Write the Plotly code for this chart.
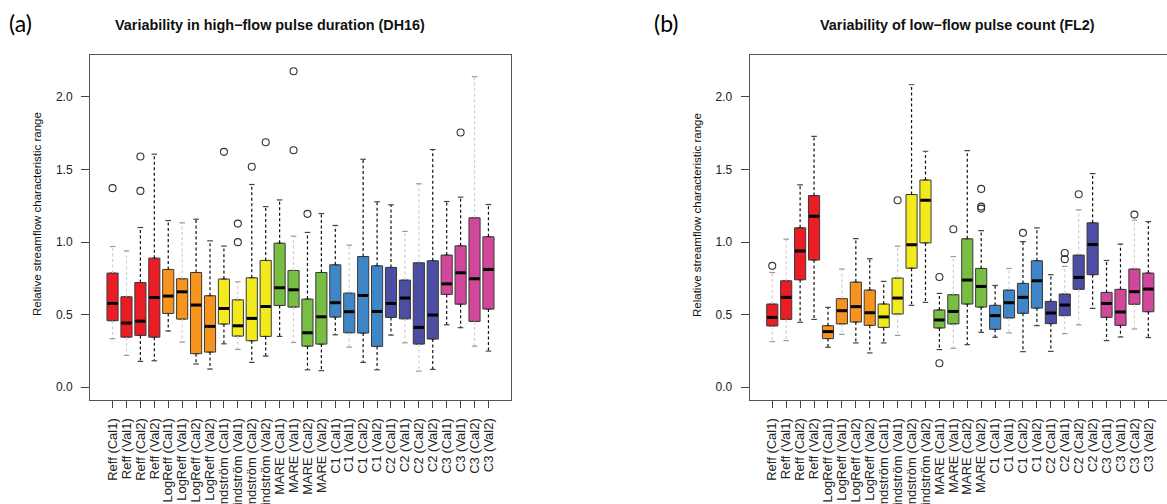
import plotly.graph_objects as go

# ---- categories ------------------------------------------------------------
groups = ["Reff", "LogReff", "Lindström", "MARE", "C1", "C2", "C3"]
periods = ["Cal1", "Val1", "Cal2", "Val2"]
labels = [f"{g} ({p})" for g in groups for p in periods]

group_colors = ["#EC1C24", "#F7941D", "#F2EA1C", "#78BE43", "#3F86C8", "#4B4EA3", "#D0479B"]

# ---- (a) DH16: variability in high-flow pulse duration --------------------
dh16_lower = [0.334, 0.219, 0.178, 0.182, 0.387, 0.311, 0.160, 0.125,
              0.299, 0.260, 0.171, 0.214, 0.350, 0.308, 0.120, 0.114,
              0.361, 0.276, 0.171, 0.120, 0.359, 0.306, 0.111, 0.123,
              0.430, 0.410, 0.283, 0.249]
dh16_q1 = [0.458, 0.345, 0.357, 0.345, 0.508, 0.469, 0.231, 0.242,
           0.435, 0.352, 0.320, 0.350, 0.563, 0.552, 0.283, 0.297,
           0.483, 0.375, 0.373, 0.281, 0.481, 0.471, 0.297, 0.332,
           0.639, 0.572, 0.453, 0.538]
dh16_median = [0.577, 0.442, 0.455, 0.618, 0.628, 0.657, 0.566, 0.419,
               0.542, 0.423, 0.474, 0.556, 0.685, 0.671, 0.375, 0.485,
               0.582, 0.520, 0.632, 0.522, 0.577, 0.614, 0.412, 0.497,
               0.712, 0.788, 0.747, 0.811]
dh16_q3 = [0.786, 0.623, 0.721, 0.889, 0.811, 0.747, 0.790, 0.630,
           0.745, 0.602, 0.754, 0.873, 0.992, 0.804, 0.607, 0.790,
           0.843, 0.648, 0.900, 0.836, 0.825, 0.738, 0.857, 0.871,
           0.910, 0.974, 1.167, 1.036]
dh16_upper = [0.969, 0.939, 1.100, 1.605, 1.148, 1.132, 1.157, 1.008,
              0.972, 0.726, 1.396, 1.244, 1.290, 1.040, 1.066, 1.196,
              1.114, 0.978, 1.570, 1.277, 1.256, 1.073, 1.401, 1.637,
              1.279, 1.309, 2.139, 1.258]
dh16_outliers = [[1.371], [], [1.589, 1.352], [], [], [], [], [],
                 [1.621], [1.127, 0.999], [1.518], [1.687],
                 [], [2.176, 1.632], [1.194], [],
                 [], [], [], [], [], [], [], [],
                 [], [1.754], [], []]

# ---- (b) FL2: variability of low-flow pulse count -------------------------
fl2_lower = [0.314, 0.321, 0.447, 0.467, 0.275, 0.364, 0.305, 0.236,
             0.305, 0.357, 0.564, 0.584, 0.259, 0.268, 0.293, 0.378,
             0.344, 0.374, 0.245, 0.424, 0.247, 0.369, 0.429, 0.543,
             0.321, 0.346, 0.401, 0.342]
fl2_q1 = [0.422, 0.467, 0.740, 0.876, 0.335, 0.436, 0.449, 0.426,
          0.412, 0.504, 0.820, 0.994, 0.408, 0.436, 0.573, 0.552,
          0.399, 0.477, 0.509, 0.545, 0.438, 0.493, 0.674, 0.775,
          0.481, 0.426, 0.571, 0.520]
fl2_median = [0.481, 0.619, 0.939, 1.178, 0.383, 0.527, 0.555, 0.513,
              0.484, 0.614, 0.981, 1.288, 0.463, 0.522, 0.738, 0.694,
              0.493, 0.582, 0.619, 0.733, 0.511, 0.566, 0.756, 0.983,
              0.577, 0.518, 0.658, 0.676]
fl2_q3 = [0.573, 0.733, 1.098, 1.320, 0.424, 0.610, 0.724, 0.669,
          0.573, 0.752, 1.327, 1.427, 0.532, 0.637, 1.022, 0.818,
          0.564, 0.669, 0.715, 0.871, 0.591, 0.642, 0.910, 1.132,
          0.653, 0.674, 0.814, 0.786]
fl2_upper = [0.790, 1.020, 1.393, 1.728, 0.550, 0.814, 1.024, 0.885,
             0.729, 0.972, 2.083, 1.625, 0.646, 0.900, 1.629, 1.079,
             0.701, 0.818, 1.003, 1.098, 0.775, 0.832, 1.221, 1.471,
             0.873, 0.985, 1.150, 1.141]
fl2_outliers = [[0.836], [], [], [], [], [], [], [],
                [], [1.288], [], [],
                [0.759, 0.165], [1.088], [], [1.366, 1.244, 1.230],
                [], [], [1.063], [], [], [0.924, 0.882], [1.329], [],
                [], [], [1.189], []]

# whiskers that render as faint grey dashes
faint_whisker = [1, 2, 6, 10, 14, 18, 22, 23, 27]

W, H = 1167, 504
BOX_W = 0.8
CAP_W = 0.4
FONT = "Liberation Sans, Arial, sans-serif"

fig = go.Figure()


def add_panel(xa, ya, lower, q1, med, q3, upper, outliers):
    pos = list(range(1, len(labels) + 1))
    # boxes, one trace per objective-function group
    for gi, col in enumerate(group_colors):
        idx = range(gi * 4, gi * 4 + 4)
        fig.add_trace(go.Box(
            x=[pos[i] for i in idx],
            q1=[q1[i] for i in idx], median=[med[i] for i in idx],
            q3=[q3[i] for i in idx],
            lowerfence=[q1[i] for i in idx], upperfence=[q3[i] for i in idx],
            fillcolor=col, line=dict(color="#3a3a3a", width=1),
            width=BOX_W, boxpoints=False, hoverinfo="skip",
            xaxis=xa, yaxis=ya, showlegend=False))
    # dashed whiskers and solid caps
    for faint in (False, True):
        wx, wy, cx, cy = [], [], [], []
        for i, p in enumerate(pos):
            if ((i + 1) in faint_whisker) != faint:
                continue
            wx += [p, p, None, p, p, None]
            wy += [q3[i], upper[i], None, q1[i], lower[i], None]
            cx += [p - CAP_W / 2, p + CAP_W / 2, None, p - CAP_W / 2, p + CAP_W / 2, None]
            cy += [upper[i], upper[i], None, lower[i], lower[i], None]
        color = "#cfcfcf" if faint else "#111111"
        fig.add_trace(go.Scatter(x=wx, y=wy, mode="lines",
                                 line=dict(color=color, width=1.2, dash="3px,2.5px"),
                                 hoverinfo="skip", xaxis=xa, yaxis=ya, showlegend=False))
        fig.add_trace(go.Scatter(x=cx, y=cy, mode="lines",
                                 line=dict(color="#444444" if not faint else "#9a9a9a", width=1.2),
                                 hoverinfo="skip", xaxis=xa, yaxis=ya, showlegend=False))
    # medians
    mx, my = [], []
    for i, p in enumerate(pos):
        mx += [p - BOX_W / 2 + 0.03, p + BOX_W / 2 - 0.03, None]
        my += [med[i], med[i], None]
    fig.add_trace(go.Scatter(x=mx, y=my, mode="lines", line=dict(color="black", width=3),
                             hoverinfo="skip", xaxis=xa, yaxis=ya, showlegend=False))
    # outliers
    ox, oy = [], []
    for i, p in enumerate(pos):
        for v in outliers[i]:
            ox.append(p)
            oy.append(v)
    fig.add_trace(go.Scatter(x=ox, y=oy, mode="markers",
                             marker=dict(symbol="circle-open", size=7,
                                         color="#333333", line=dict(width=1.1)),
                             hoverinfo="skip", xaxis=xa, yaxis=ya, showlegend=False))


add_panel("x", "y", dh16_lower, dh16_q1, dh16_median, dh16_q3, dh16_upper, dh16_outliers)
add_panel("x2", "y2", fl2_lower, fl2_q1, fl2_median, fl2_q3, fl2_upper, fl2_outliers)

y_dom = [104 / H, 449 / H]
xaxis_common = dict(
    tickmode="array", tickvals=list(range(1, len(labels) + 1)), ticktext=labels,
    tickangle=-90, ticks="outside", ticklen=7, tickcolor="#444", tickwidth=1,
    showline=True, linecolor="#555", linewidth=1, mirror=True,
    showgrid=False, zeroline=False, ticklabelstandoff=5, automargin=False,
    tickfont=dict(family=FONT, size=13, color="#222"),
)
yaxis_common = dict(
    range=[-0.088, 2.288], tickmode="array", tickvals=[0, 0.5, 1.0, 1.5, 2.0],
    tickformat=".1f", ticks="outside", ticklen=8, tickcolor="#444", tickwidth=1,
    showline=True, linecolor="#555", linewidth=1, automargin=False,
    showgrid=False, zeroline=False, ticklabelstandoff=6,
    tickfont=dict(family=FONT, size=12, color="#222"), domain=y_dom,
)

fig.update_layout(
    width=W, height=H, autosize=False,
    margin=dict(l=0, r=0, t=0, b=0, autoexpand=False),
    paper_bgcolor="white", plot_bgcolor="white", showlegend=False,
    xaxis=dict(xaxis_common, domain=[90 / W, 511 / W], range=[-0.62, 29.62], anchor="y"),
    yaxis=dict(yaxis_common, mirror=True, anchor="x"),
    xaxis2=dict(xaxis_common, domain=[749.7 / W, 1.0], range=[-0.62, 29.34], anchor="y2"),
    yaxis2=dict(yaxis_common, mirror=False, anchor="x2"),
)

ann = []


def px_ann(text, x, y, size, xanchor="center", weight="normal", family=FONT, angle=0, color="#111"):
    ann.append(dict(text=text, x=x / W, y=1 - y / H, xref="paper", yref="paper",
                    xanchor=xanchor, yanchor="middle", showarrow=False, textangle=angle,
                    font=dict(family=family, size=size, weight=weight, color=color)))


px_ann("Variability in high\u2212flow pulse duration (DH16)", 270, 25, 14.4, weight="bold")
px_ann("Variability of low\u2212flow pulse count (FL2)", 957.5, 25, 14.4, weight="bold")
px_ann("(a)", 7, 23, 23, xanchor="left", family="Lato, Carlito, sans-serif", color="#000")
px_ann("(b)", 652, 23, 23, xanchor="left", family="Lato, Carlito, sans-serif", color="#000")
px_ann("Relative streamflow characteristic range", 37, 214, 11.5, angle=-90)
px_ann("Relative streamflow characteristic range", 697, 215, 11.5, angle=-90)
fig.update_layout(annotations=ann)

fig.write_html("out.html")
